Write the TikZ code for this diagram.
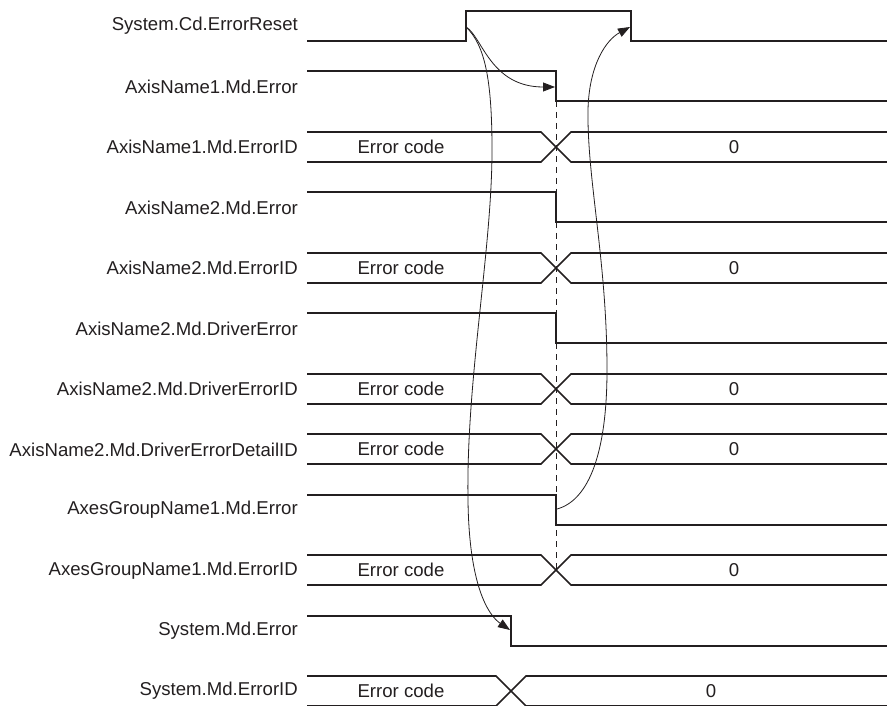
\documentclass[tikz,border=0pt]{standalone}
\usepackage{fontspec}
\setmainfont{Liberation Sans}
\usetikzlibrary{arrows.meta}
\definecolor{ink}{HTML}{231F20}
\begin{document}
\begin{tikzpicture}[x=1pt,y=-1pt,
  lbl/.style={anchor=east,inner sep=0pt,text=ink,font=\fontsize{18.6}{22}\selectfont},
  val/.style={inner sep=0pt,text=ink,font=\fontsize{18.6}{22}\selectfont},
  sig/.style={draw=ink,line width=1.6pt,line join=miter},
  conn/.style={draw=ink,line width=0.8pt,-{Triangle[length=12pt,width=9pt]}},
  guide/.style={draw=ink,line width=0.9pt,dash pattern=on 6pt off 5pt}]
\useasboundingbox (0,0) rectangle (887,706);
\clip (0,0) rectangle (887,706);
% row tops
\def\ya{11}\def\yb{71}\def\yc{132}\def\yd{192}\def\ye{253}\def\yf{313}
\def\yg{374}\def\yh{434}\def\yi{495}\def\yj{555}\def\yk{616}\def\yl{676}
% labels
\node[lbl] (l1) at (298,26) {System.Cd.ErrorReset};
\node[lbl] (l2) at (298,86.5) {AxisName1.Md.Error};
\node[lbl] (l3) at (298,147) {AxisName1.Md.ErrorID};
\node[lbl] (l4) at (298,207.5) {AxisName2.Md.Error};
\node[lbl] (l5) at (298,268) {AxisName2.Md.ErrorID};
\node[lbl] (l6) at (298,328.5) {AxisName2.Md.DriverError};
\node[lbl] (l7) at (298,389) {AxisName2.Md.DriverErrorID};
\node[lbl] (l8) at (298,449.5) {AxisName2.Md.DriverErrorDetailID};
\node[lbl] (l9) at (298,510) {AxesGroupName1.Md.Error};
\node[lbl] (l10) at (298,570.5) {AxesGroupName1.Md.ErrorID};
\node[lbl] (l11) at (298,631) {System.Md.Error};
\node[lbl] (l12) at (298,691) {System.Md.ErrorID};
% dashed guide
\draw[guide] (556,101) -- (556,570);
% digital signals
\draw[sig] (307,41) -- (466,41) -- (466,\ya) -- (631,\ya) -- (631,41) -- (887,41);
\draw[sig] (307,\yb) -- (556,\yb) -- (556,101) -- (887,101);
\draw[sig] (307,\yd) -- (556,\yd) -- (556,222) -- (887,222);
\draw[sig] (307,\yf) -- (556,\yf) -- (556,343) -- (887,343);
\draw[sig] (307,\yi) -- (556,\yi) -- (556,525) -- (887,525);
\draw[sig] (307,\yk) -- (511,\yk) -- (511,646) -- (887,646);
% bus signals
\foreach \t/\xc/\n/\zx in {\yc/556/3/734,\ye/556/5/734,\yg/556/7/734,\yh/556/8/734,\yj/556/10/734,\yl/511/12/711}{
  \pgfmathsetmacro{\tb}{\t+30}
  \pgfmathsetmacro{\tm}{\t+15}
  \draw[sig] (307,\t) -- (\xc-15,\t) -- (\xc+15,\tb) -- (887,\tb);
  \draw[sig] (307,\tb) -- (\xc-15,\tb) -- (\xc+15,\t) -- (887,\t);
  \node[val] (ec\n) at (401,\tm) {Error code};
  \node[val] (z\n) at (\zx,\tm) {0};
}
% connector end points
\coordinate (rise) at (466,27);
\coordinate (a1fall) at (555,87);
\coordinate (sysfall) at (510,630);
\coordinate (agfall) at (557,509);
\coordinate (rstfall) at (630,27);
% connectors
\draw[conn] (rise) .. controls (482,36) and (490,87) .. (a1fall);
\draw[conn] (rise) .. controls (485,45) and (492,80) .. (492,150)
  .. controls (492,250) and (466,380) .. (468,500)
  .. controls (469,585) and (488,615) .. (sysfall);
\draw[conn] (agfall) .. controls (590,500) and (607,450) .. (607,370)
  .. controls (607,260) and (587,180) .. (588,110)
  .. controls (589,65) and (606,40) .. (rstfall);
\end{tikzpicture}
\end{document}
